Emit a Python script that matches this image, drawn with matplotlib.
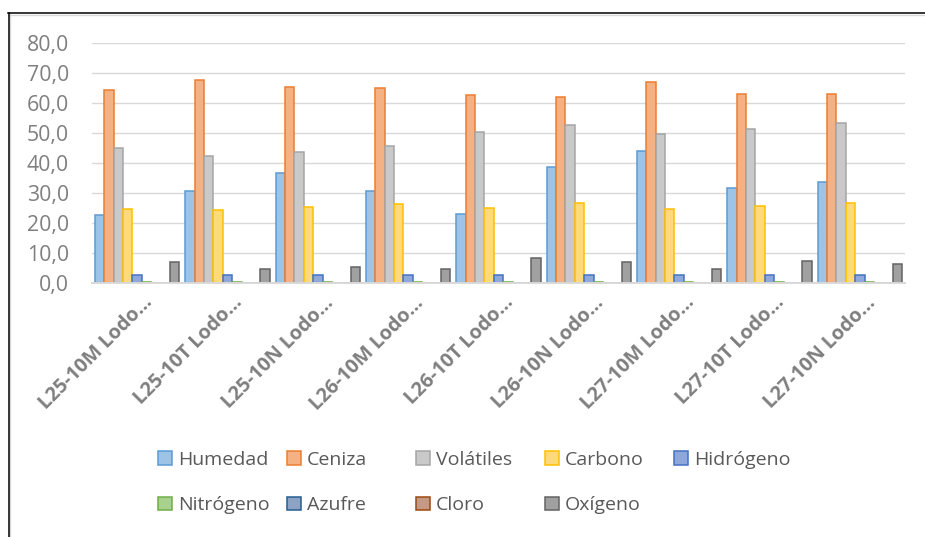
import matplotlib
matplotlib.use('Agg')
import matplotlib.pyplot as plt
import matplotlib.transforms as mtransforms
from matplotlib.patches import Patch
from matplotlib.ticker import FuncFormatter, MultipleLocator
import numpy as np

plt.rcParams['font.family'] = ['Open Sans', 'DejaVu Sans']

muestras = ['L25-10M Lodo…', 'L25-10T Lodo…', 'L25-10N Lodo…',
            'L26-10M Lodo…', 'L26-10T Lodo…', 'L26-10N Lodo…',
            'L27-10M Lodo…', 'L27-10T Lodo…', 'L27-10N Lodo…']

humedad = [22.7, 30.8, 36.8, 30.8, 23.2, 38.7, 44.1, 31.8, 33.6]
ceniza = [64.5, 67.6, 65.5, 65.1, 62.7, 62.0, 67.1, 63.2, 63.1]
volatiles = [45.1, 42.5, 43.6, 45.7, 50.3, 52.9, 49.9, 51.5, 53.5]
carbono = [24.8, 24.3, 25.5, 26.4, 25.2, 26.8, 24.8, 25.6, 26.8]
hidrogeno = [2.6, 2.6, 2.7, 2.8, 2.7, 2.8, 2.6, 2.7, 2.8]
nitrogeno = [0.4, 0.4, 0.4, 0.4, 0.4, 0.4, 0.4, 0.4, 0.4]
azufre = [0.1, 0.1, 0.1, 0.1, 0.1, 0.1, 0.1, 0.1, 0.1]
cloro = [0.1, 0.1, 0.1, 0.1, 0.1, 0.1, 0.1, 0.1, 0.1]
oxigeno = [7.1, 4.8, 5.4, 4.9, 8.4, 7.1, 4.8, 7.4, 6.4]

series = [
    ('Humedad', humedad, '#9DC3E6', '#5B9BD5'),
    ('Ceniza', ceniza, '#F4B183', '#ED7D31'),
    ('Volátiles', volatiles, '#C9C9C9', '#A5A5A5'),
    ('Carbono', carbono, '#FFD97A', '#FFC000'),
    ('Hidrógeno', hidrogeno, '#8FA8DC', '#4472C4'),
    ('Nitrógeno', nitrogeno, '#A9D18E', '#70AD47'),
    ('Azufre', azufre, '#8DA3C4', '#255E91'),
    ('Cloro', cloro, '#C49A87', '#9E480E'),
    ('Oxígeno', oxigeno, '#A0A0A0', '#636363'),
]

W, H = 925, 537
fig = plt.figure(figsize=(W / 100, H / 100), dpi=100)
ax = fig.add_axes([92 / W, 1 - 283.3 / H, 813 / W, 240 / H])

x = np.arange(len(muestras))
n = len(series)
bw = 0.1037
for i, (name, vals, face, edge) in enumerate(series):
    offs = (i - (n - 1) / 2) * bw
    ax.bar(x + offs, vals, width=bw, color=face, edgecolor=edge,
           linewidth=1.1, zorder=3)

ax.set_xlim(-0.5, len(muestras) - 0.5)
ax.set_ylim(0, 80)
ax.yaxis.set_major_locator(MultipleLocator(10))
ax.yaxis.set_major_formatter(FuncFormatter(lambda v, p: f'{v:.1f}'.replace('.', ',')))
ax.grid(axis='y', color='#D9D9D9', linewidth=1.0, zorder=0)
ax.set_axisbelow(True)

for s in ['top', 'right', 'left']:
    ax.spines[s].set_visible(False)
ax.spines['bottom'].set_color('#D9D9D9')
ax.spines['bottom'].set_linewidth(1.4)
ax.spines['bottom'].set_zorder(4)

ax.tick_params(axis='y', length=0, pad=16.5, labelsize=15.3, labelcolor='#7F7F7F')
ax.tick_params(axis='x', length=0, pad=14.4)
ax.set_xticks(x)
ax.set_xticklabels(muestras, rotation=45, ha='right', va='baseline',
                   rotation_mode='anchor', fontsize=14.2, fontweight='bold',
                   color='#7F7F7F')
shift = mtransforms.ScaledTranslation(16 / 100, 0, fig.dpi_scale_trans)
for lbl in ax.get_xticklabels():
    lbl.set_transform(lbl.get_transform() + shift)

# leyenda en cuadricula de 5 columnas con separacion fija
col_x = [158, 287, 416, 545, 674]
handles = [Patch(facecolor=f, edgecolor=e, linewidth=1.1) for _, _, f, e in series]
names = [s[0] for s in series]
for c, cx in enumerate(col_x):
    idx = [c, c + 5] if c + 5 < n else [c]
    yc = 482.5 if len(idx) == 2 else 460
    fig.legend([handles[k] for k in idx], [names[k] for k in idx],
               loc='center left', bbox_to_anchor=(cx / W, 1 - yc / H),
               frameon=False, borderpad=0, borderaxespad=0,
               handlelength=0.72, handleheight=0.72, handletextpad=0.31,
               labelspacing=1.42, fontsize=14, labelcolor='#595959')

# marco del area del grafico
fig.add_artist(plt.Line2D([9 / W, 1], [1 - 14.5 / H, 1 - 14.5 / H],
                          transform=fig.transFigure, color='#D9D9D9', linewidth=1.0))
fig.add_artist(plt.Line2D([10 / W, 10 / W], [0, 1 - 14 / H],
                          transform=fig.transFigure, color='#D9D9D9', linewidth=1.0))
fig.add_artist(plt.Line2D([8 / W, 1], [1 - 12.8 / H, 1 - 12.8 / H],
                          transform=fig.transFigure, color='black', linewidth=1.1))
fig.add_artist(plt.Line2D([8.5 / W, 8.5 / W], [0, 1 - 12.8 / H],
                          transform=fig.transFigure, color='black', linewidth=1.1))

fig.savefig('out.png', dpi=100)
